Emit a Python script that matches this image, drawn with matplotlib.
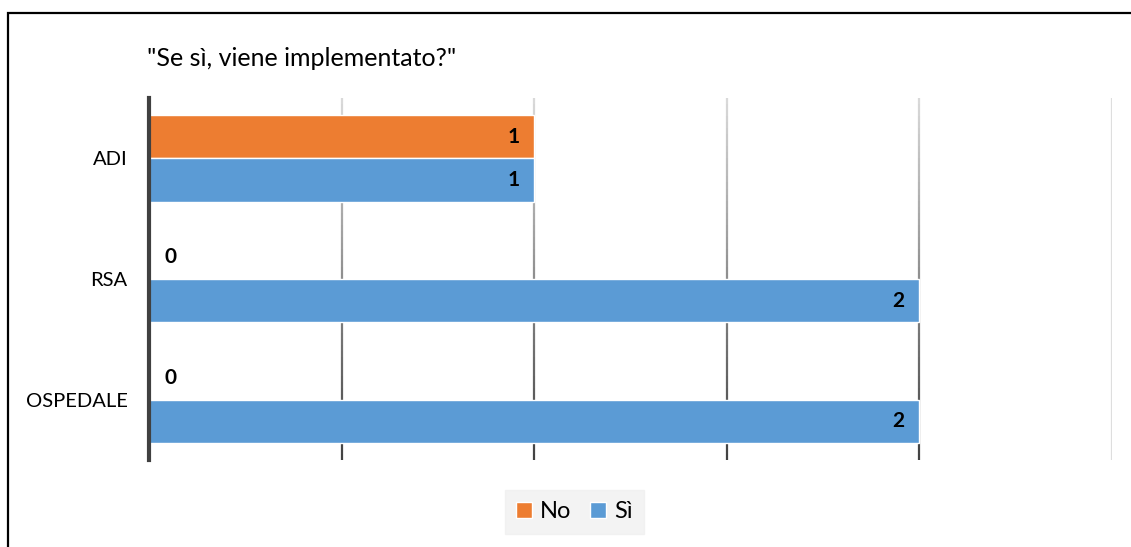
import matplotlib
matplotlib.use("Agg")
import matplotlib.pyplot as plt
import numpy as np
from matplotlib.patches import Rectangle, Patch

categories = ["ADI", "RSA", "OSPEDALE"]
series_names = ["No", "Sì"]
no_values = [1, 0, 0]
si_values = [1, 2, 2]
title = '"Se sì, viene implementato?"'

plt.rcParams['font.family'] = ['Lato', 'DejaVu Sans']

W, H = 1131, 547
fig = plt.figure(figsize=(W / 100, H / 100), dpi=100)
ax = fig.add_axes([149 / W, 1 - 460 / H, (1112 - 149) / W, (460 - 98) / H])

orange = "#ED7D31"
blue = "#5B9BD5"
y = np.arange(len(categories))
h = 0.36
ax.barh(y - 0.18, no_values, height=h, color=orange, edgecolor="white", linewidth=1, zorder=3)
ax.barh(y + 0.18, si_values, height=h, color=blue, edgecolor="white", linewidth=1, zorder=3)

ax.set_xlim(0, 2.5)
ax.set_ylim(2.5, -0.5)
ax.set_xticks(np.arange(0, 2.51, 0.5))
ax.set_yticks(y)
ax.set_yticklabels(categories, fontsize=14.5)
ax.tick_params(axis='y', length=0, pad=15.5)
ax.tick_params(axis='x', length=0, labelbottom=False)
for s in ["top", "right", "bottom"]:
    ax.spines[s].set_visible(False)
ax.spines["left"].set_color("#404040")
ax.spines["left"].set_linewidth(3)
ax.spines["left"].set_zorder(4)

# gradient gridlines (lighter at top, darker at bottom)
nseg = 60
ys = np.linspace(-0.5, 2.5, nseg + 1)
for xt in ax.get_xticks()[1:]:
    last = np.isclose(xt, 2.5)
    for i in range(nseg):
        t = i / nseg
        g = 0.85 - 0.6 * t if not last else 0.87
        ax.plot([xt, xt], [ys[i], ys[i + 1]], color=(g, g, g), lw=1.6, zorder=1,
                solid_capstyle='butt')

def label(vals, offs):
    for yi, v in zip(y, vals):
        if v == 0:
            ax.annotate(str(v), (v, yi + offs), xytext=(11, 0), textcoords="offset points",
                        ha="left", va="center", fontsize=15, fontweight="bold", zorder=5)
        else:
            ax.annotate(str(v), (v, yi + offs), xytext=(-10.5, 0), textcoords="offset points",
                        ha="right", va="center", fontsize=15, fontweight="bold", zorder=5)

label(no_values, -0.18)
label(si_values, 0.18)

fig.text(147 / W, 1 - 58 / H, title, fontsize=18, ha="left", va="center")

handles = [Patch(facecolor=orange, edgecolor="white"), Patch(facecolor=blue, edgecolor="white")]
leg = fig.legend(handles, series_names, loc="center", bbox_to_anchor=(574.5 / W, 1 - 512 / H),
                 ncol=2, frameon=True, fontsize=17, handlelength=0.65, handleheight=0.65,
                 handletextpad=0.35, columnspacing=0.8, borderpad=0.5, fancybox=False)
leg.get_frame().set_facecolor("#F0F0F0")
leg.get_frame().set_edgecolor("#F0F0F0")

fig.patches.append(Rectangle((8 / W, -0.05), 1.1, 1 - 13 / H + 0.05, transform=fig.transFigure,
                             fill=False, edgecolor="black", linewidth=1.6))

fig.savefig("out.png", dpi=100)
